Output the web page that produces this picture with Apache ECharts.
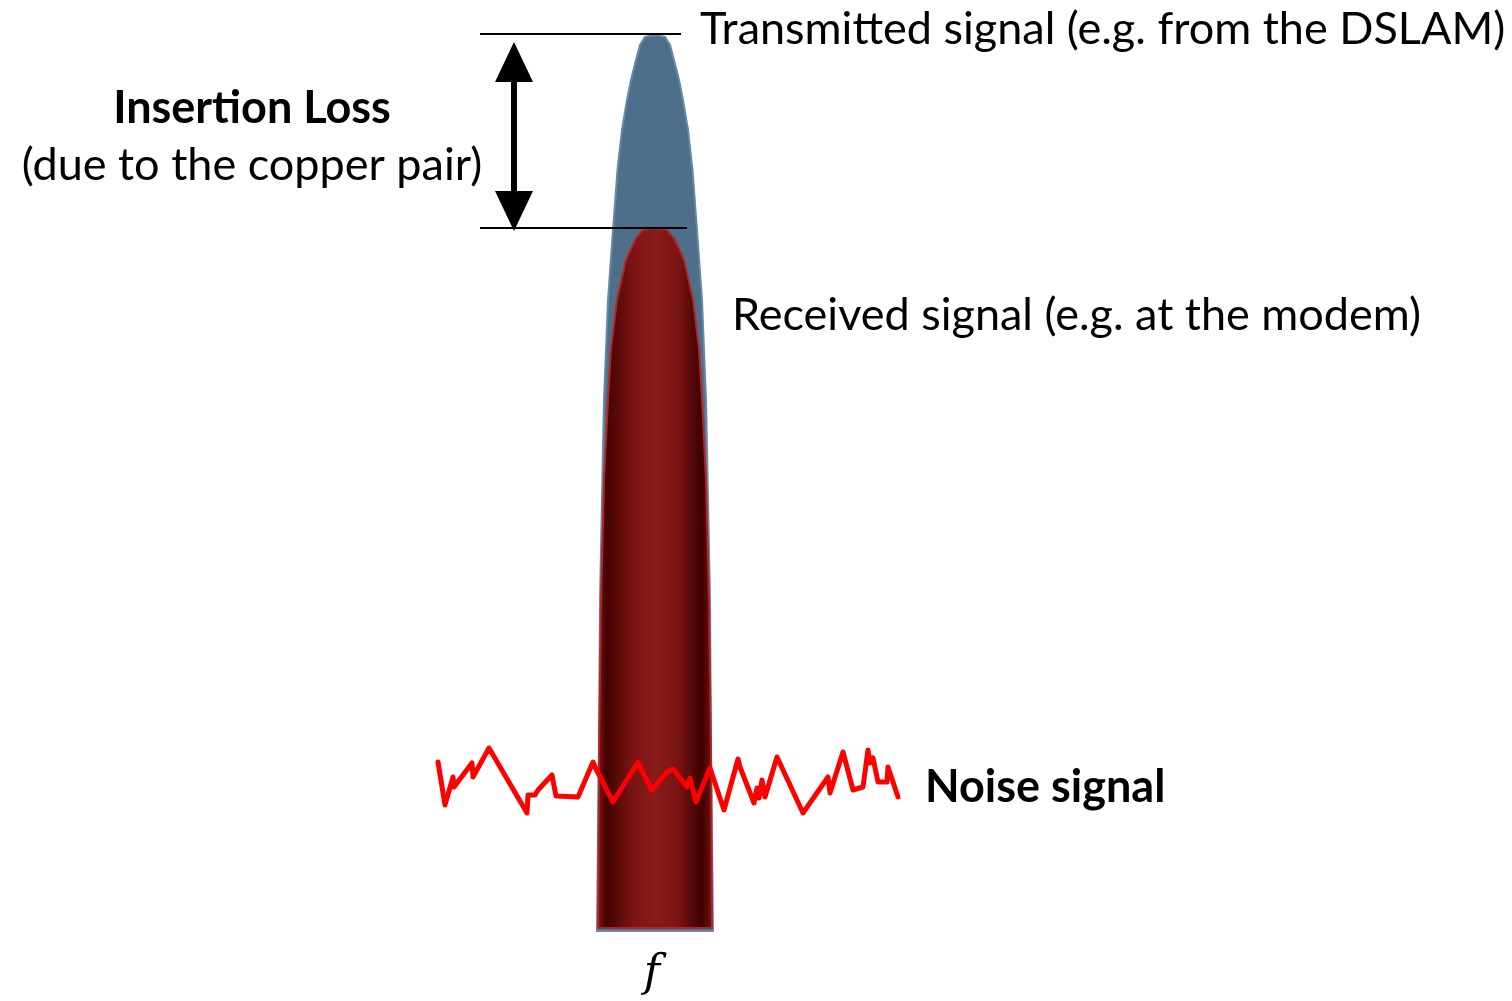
<!DOCTYPE html>
<html>
<head>
<meta charset="utf-8">
<script src="https://cdn.jsdelivr.net/npm/echarts@6/dist/echarts.min.js"></script>
<style>
    html, body { margin: 0; padding: 0; background: #fff; }
    #main { width: 1512px; height: 1001px; }
</style>
</head>
<body>
<div id="main"></div>
<script>
    // centre frequency of the band
    const peakFreq = 655;

    // transmitted signal envelope: level (top -> bottom) and half width
    const txLevels = [966, 964, 956, 941, 921, 901, 871, 831, 771, 701, 601, 501, 401, 251, 70];
    const txHalfWidths = [0, 10, 15, 19, 24, 28, 33, 37.5, 42, 47, 51, 53, 55, 56, 58];

    // received signal envelope
    const rxLevels = [773, 771, 761, 741, 701, 651, 601, 521, 401, 251, 73];
    const rxHalfWidths = [0, 12, 20, 29, 38, 44, 47, 51, 54, 56, 57];

    // noise
    const noiseFreq = [438, 445, 453, 454, 472, 473, 489, 527, 528, 535, 538, 552, 556, 578, 593, 595, 613, 638, 640, 652,
        667, 673, 687, 690, 696, 710, 724, 738, 740, 754, 757, 759, 762, 765, 777, 803, 828, 830, 843, 853,
        863, 868, 870, 873, 878, 887, 888, 898];
    const noiseLevel = [239, 196, 224, 214, 238, 224, 253, 188, 206, 206, 211, 226, 205, 204, 239, 234, 199, 239, 234, 211,
        229, 232, 214, 223, 199, 233, 191, 242, 234, 198, 213, 203, 221, 204, 244, 188, 224, 208, 249, 211,
        214, 251, 238, 243, 219, 219, 234, 204];

    // insertion loss marker: from / to of the reference lines
    const refLineFrom = [480, 480];
    const refLineTo = [681, 687];
    const refLineLevel = [txLevels[0] + 1, rxLevels[0]];
    const arrowFreq = 514;

    let myChart = echarts.init(document.getElementById('main'));

    // 画子弹形状
    function bulletItem(levels, halfs, fill, stroke) {
        return function (params, api) {
            if (params.dataIndex !== 0) return;
            let left = [], right = [];
            for (let i = 0; i < levels.length; i++) {
                left.push(api.coord([peakFreq - halfs[i], levels[i]]));
                right.unshift(api.coord([peakFreq + halfs[i], levels[i]]));
            }
            return {
                type: 'polygon',
                shape: {points: left.concat(right)},
                style: {fill: fill, stroke: stroke, lineWidth: 2}
            };
        };
    }

    let noiseData = noiseFreq.map((f, i) => [f, noiseLevel[i]]);

    let redFill = new echarts.graphic.LinearGradient(0, 0, 1, 0, [
        {offset: 0, color: '#8a1818'},
        {offset: 0.08, color: '#420202'},
        {offset: 0.3, color: '#7a1414'},
        {offset: 0.5, color: '#8b1b1b'},
        {offset: 0.7, color: '#7a1414'},
        {offset: 0.9, color: '#3c0000'},
        {offset: 1, color: '#7a1010'}
    ]);

    let textFont = 'Lato, "Open Sans", sans-serif';

    myChart.setOption({
        animation: false,
        grid: {left: 0, right: 0, top: 0, bottom: 0},
        xAxis: {type: 'value', min: 0, max: 1512, show: false},
        yAxis: {type: 'value', min: 0, max: 1001, show: false},
        series: [
            {
                name: 'Transmitted',
                type: 'custom',
                z: 1,
                renderItem: bulletItem(txLevels, txHalfWidths, '#4e6e8a', '#6489ab'),
                data: [[peakFreq, txLevels[0]]],
                markLine: {
                    silent: true,
                    symbol: ['none', 'none'],
                    label: {show: false},
                    lineStyle: {color: '#000', width: 1.8, type: 'solid'},
                    data: refLineLevel.map((lv, i) => [
                        {coord: [refLineFrom[i], lv]},
                        {coord: [refLineTo[i], lv]}
                    ])
                }
            },
            {
                name: 'Received',
                type: 'custom',
                z: 2,
                renderItem: bulletItem(rxLevels, rxHalfWidths, redFill, '#b52424'),
                data: [[peakFreq, rxLevels[0]]],
                markLine: {
                    silent: true,
                    symbol: ['triangle', 'triangle'],
                    symbolSize: [38, 40],
                    label: {show: false},
                    lineStyle: {color: '#000', width: 6, type: 'solid', opacity: 1},
                    data: [[
                        {coord: [arrowFreq, txLevels[0] - 27]},
                        {coord: [arrowFreq, rxLevels[0] + 17]}
                    ]]
                }
            },
            {
                name: 'Noise',
                type: 'line',
                z: 3,
                data: noiseData,
                showSymbol: false,
                symbol: 'none',
                lineStyle: {color: '#ff0000', width: 5, join: 'round', cap: 'round'}
            }
        ],
        graphic: [
            {type: 'text', x: 700, y: 29, style: {text: 'Transmitted signal (e.g. from the DSLAM)', font: '45px ' + textFont, fill: '#000', verticalAlign: 'middle'}},
            {type: 'text', x: 732, y: 315, style: {text: 'Received signal (e.g. at the modem)', font: '45px ' + textFont, fill: '#000', verticalAlign: 'middle'}},
            {type: 'text', x: 252, y: 108, style: {text: 'Insertion Loss', font: 'bold 45px ' + textFont, fill: '#000', align: 'center', verticalAlign: 'middle'}},
            {type: 'text', x: 252, y: 165, style: {text: '(due to the copper pair)', font: '45px ' + textFont, fill: '#000', align: 'center', verticalAlign: 'middle'}},
            {type: 'text', x: 925, y: 787, style: {text: 'Noise signal', font: 'bold 45px ' + textFont, fill: '#000', align: 'left', verticalAlign: 'middle'}},
            {type: 'text', x: 652, y: 975, style: {text: 'f', font: 'italic 44px "DejaVu Serif", serif', fill: '#000', align: 'center', verticalAlign: 'middle'}}
        ]
    });
</script>
</body>
</html>
